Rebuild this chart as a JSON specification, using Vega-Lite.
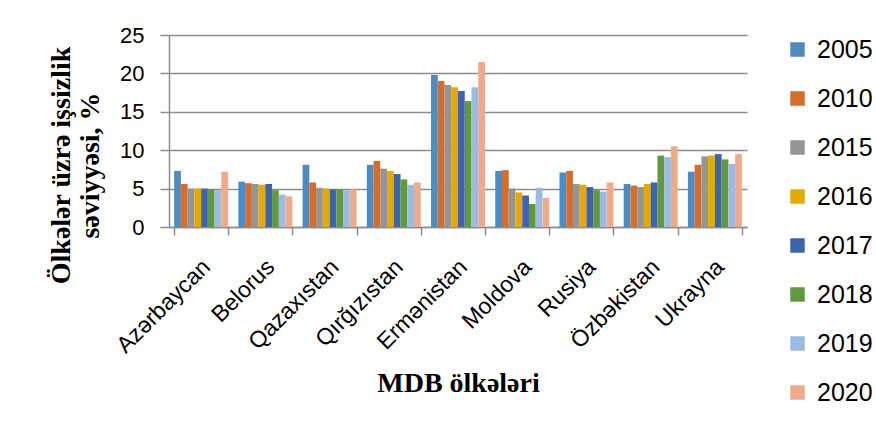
{
  "$schema": "https://vega.github.io/schema/vega-lite/v6.json",
  "autosize": "none",
  "width": 578,
  "height": 192,
  "padding": {"left": 169, "top": 35, "right": 129, "bottom": 199},
  "background": "white",
  "data": {"values": [
    {"country": "Azərbaycan", "year": "2005", "value": 7.3},
    {"country": "Azərbaycan", "year": "2010", "value": 5.6},
    {"country": "Azərbaycan", "year": "2015", "value": 5.0},
    {"country": "Azərbaycan", "year": "2016", "value": 5.0},
    {"country": "Azərbaycan", "year": "2017", "value": 5.0},
    {"country": "Azərbaycan", "year": "2018", "value": 4.9},
    {"country": "Azərbaycan", "year": "2019", "value": 4.8},
    {"country": "Azərbaycan", "year": "2020", "value": 7.2},
    {"country": "Belorus", "year": "2005", "value": 5.9},
    {"country": "Belorus", "year": "2010", "value": 5.7},
    {"country": "Belorus", "year": "2015", "value": 5.6},
    {"country": "Belorus", "year": "2016", "value": 5.5},
    {"country": "Belorus", "year": "2017", "value": 5.6},
    {"country": "Belorus", "year": "2018", "value": 4.8},
    {"country": "Belorus", "year": "2019", "value": 4.2},
    {"country": "Belorus", "year": "2020", "value": 4.0},
    {"country": "Qazaxıstan", "year": "2005", "value": 8.1},
    {"country": "Qazaxıstan", "year": "2010", "value": 5.8},
    {"country": "Qazaxıstan", "year": "2015", "value": 5.1},
    {"country": "Qazaxıstan", "year": "2016", "value": 5.0},
    {"country": "Qazaxıstan", "year": "2017", "value": 4.9},
    {"country": "Qazaxıstan", "year": "2018", "value": 4.9},
    {"country": "Qazaxıstan", "year": "2019", "value": 4.8},
    {"country": "Qazaxıstan", "year": "2020", "value": 4.9},
    {"country": "Qırğızıstan", "year": "2005", "value": 8.1},
    {"country": "Qırğızıstan", "year": "2010", "value": 8.6},
    {"country": "Qırğızıstan", "year": "2015", "value": 7.6},
    {"country": "Qırğızıstan", "year": "2016", "value": 7.3},
    {"country": "Qırğızıstan", "year": "2017", "value": 6.9},
    {"country": "Qırğızıstan", "year": "2018", "value": 6.2},
    {"country": "Qırğızıstan", "year": "2019", "value": 5.5},
    {"country": "Qırğızıstan", "year": "2020", "value": 5.8},
    {"country": "Ermənistan", "year": "2005", "value": 19.8},
    {"country": "Ermənistan", "year": "2010", "value": 19.0},
    {"country": "Ermənistan", "year": "2015", "value": 18.5},
    {"country": "Ermənistan", "year": "2016", "value": 18.2},
    {"country": "Ermənistan", "year": "2017", "value": 17.7},
    {"country": "Ermənistan", "year": "2018", "value": 16.4},
    {"country": "Ermənistan", "year": "2019", "value": 18.2},
    {"country": "Ermənistan", "year": "2020", "value": 21.5},
    {"country": "Moldova", "year": "2005", "value": 7.3},
    {"country": "Moldova", "year": "2010", "value": 7.4},
    {"country": "Moldova", "year": "2015", "value": 5.0},
    {"country": "Moldova", "year": "2016", "value": 4.5},
    {"country": "Moldova", "year": "2017", "value": 4.1},
    {"country": "Moldova", "year": "2018", "value": 3.0},
    {"country": "Moldova", "year": "2019", "value": 5.1},
    {"country": "Moldova", "year": "2020", "value": 3.8},
    {"country": "Rusiya", "year": "2005", "value": 7.1},
    {"country": "Rusiya", "year": "2010", "value": 7.3},
    {"country": "Rusiya", "year": "2015", "value": 5.6},
    {"country": "Rusiya", "year": "2016", "value": 5.5},
    {"country": "Rusiya", "year": "2017", "value": 5.2},
    {"country": "Rusiya", "year": "2018", "value": 4.8},
    {"country": "Rusiya", "year": "2019", "value": 4.6},
    {"country": "Rusiya", "year": "2020", "value": 5.8},
    {"country": "Özbəkistan", "year": "2005", "value": 5.6},
    {"country": "Özbəkistan", "year": "2010", "value": 5.4},
    {"country": "Özbəkistan", "year": "2015", "value": 5.2},
    {"country": "Özbəkistan", "year": "2016", "value": 5.6},
    {"country": "Özbəkistan", "year": "2017", "value": 5.8},
    {"country": "Özbəkistan", "year": "2018", "value": 9.3},
    {"country": "Özbəkistan", "year": "2019", "value": 9.1},
    {"country": "Özbəkistan", "year": "2020", "value": 10.5},
    {"country": "Ukrayna", "year": "2005", "value": 7.2},
    {"country": "Ukrayna", "year": "2010", "value": 8.1},
    {"country": "Ukrayna", "year": "2015", "value": 9.2},
    {"country": "Ukrayna", "year": "2016", "value": 9.3},
    {"country": "Ukrayna", "year": "2017", "value": 9.5},
    {"country": "Ukrayna", "year": "2018", "value": 8.8},
    {"country": "Ukrayna", "year": "2019", "value": 8.2},
    {"country": "Ukrayna", "year": "2020", "value": 9.5}
  ]},
  "mark": {"type": "bar"},
  "encoding": {
    "x": {
      "field": "country", "type": "nominal", "sort": null,
      "scale": {"paddingInner": 0.16, "paddingOuter": 0.08},
      "axis": {
        "title": "MDB ölkələri",
        "titleFont": "Liberation Serif", "titleFontWeight": "bold", "titleFontSize": 28,
        "titleColor": "black", "titlePadding": 12,
        "labelAngle": -45, "labelAlign": "right", "labelBaseline": "middle",
        "labelFont": "Liberation Sans", "labelFontSize": 23, "labelColor": "black",
        "labelPadding": 28, "labelOffset": 5,
        "tickBand": "extent", "tickSize": 8, "tickColor": "#8c8c8c", "tickWidth": 1.5,
        "domainColor": "#8c8c8c", "domainWidth": 1.5
      }
    },
    "xOffset": {
      "field": "year", "type": "nominal",
      "scale": {"paddingInner": 0, "paddingOuter": 0}
    },
    "y": {
      "field": "value", "type": "quantitative",
      "scale": {"domain": [0, 25]},
      "axis": {
        "title": ["Ölkələr üzrə işsizlik", "səviyyəsi, %"],
        "titleFont": "Liberation Serif", "titleFontWeight": "bold", "titleFontSize": 28,
        "titleLineHeight": 29, "titleColor": "black",
        "titleAngle": -90, "titleAlign": "center", "titleBaseline": "middle",
        "titleX": -108, "titleY": 130,
        "values": [0, 5, 10, 15, 20, 25],
        "labelFont": "Liberation Sans", "labelFontSize": 22, "labelColor": "black",
        "labelPadding": 16,
        "tickSize": 9, "tickColor": "#8c8c8c", "tickWidth": 1.5,
        "domainColor": "#8c8c8c", "domainWidth": 1.5,
        "grid": true, "gridColor": "#8c8c8c", "gridWidth": 1.5
      }
    },
    "color": {
      "field": "year", "type": "nominal",
      "scale": {
        "domain": ["2005", "2010", "2015", "2016", "2017", "2018", "2019", "2020"],
        "range": ["#4f8bc1", "#d56d2c", "#959595", "#e3aa00", "#3d65ad", "#63993e", "#9bbce2", "#f1a98b"]
      },
      "legend": {
        "title": null, "orient": "none", "legendX": 616, "legendY": 2,
        "symbolType": "square", "symbolSize": 210, "symbolStrokeWidth": 0,
        "labelFont": "Liberation Sans", "labelFontSize": 25, "labelColor": "black",
        "labelOffset": 7, "rowPadding": 23
      }
    }
  },
  "config": {"view": {"stroke": null}}
}
